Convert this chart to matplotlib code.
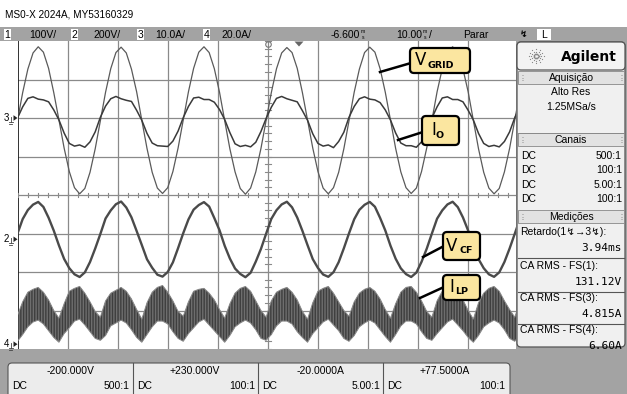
import numpy as np
import matplotlib
matplotlib.use("Agg")
import matplotlib.pyplot as plt
from matplotlib.patches import FancyBboxPatch, Rectangle, Polygon

# ---------------- data ----------------
CH_NAMES = ["1", "2", "3", "4"]
CH_SCALE_TXT = ["100V/", "200V/", "10.0A/", "20.0A/"]
CH_SCALE = [100.0, 200.0, 10.0, 20.0]          # units / div
CH_OFFSET = [-200.0, 230.0, -20.0, 77.5]       # value at screen centre
CH_OFFSET_TXT = ["-200.000V", "+230.000V", "-20.0000A", "+77.5000A"]
CH_PROBE = ["500:1", "100:1", "5.00:1", "100:1"]
TIME_PER_DIV = 10.0     # ms
TIME_DELAY = -6.6       # ms
SAMPLE_T0 = -56.6       # ms, first sample
SAMPLE_DT = 1.036       # ms between samples

MEAS_LABELS = ["Retardo(1\u21af\u21923\u21af):", "CA RMS - FS(1):", "CA RMS - FS(3):", "CA RMS - FS(4):"]
MEAS_VALUES = ["3.94ms", "131.12V", "4.815A", "6.60A"]

# V_GRID  (channel 1, volts)
v_grid = [-6, 66, 127, 169, 185, 171, 129, 66, -5, -78, -139, -181, -197, -183, -141, -80,
          -7, 67, 128, 170, 184, 169, 127, 68, -6, -79, -141, -182, -196, -181, -139, -78,
          -5, 68, 129, 171, 185, 170, 128, 67, -7, -80, -140, -183, -198, -182, -140, -79,
          -6, 66, 128, 169, 183, 170, 129, 66, -6, -78, -139, -182, -197, -181, -141, -80,
          -7, 67, 127, 170, 184, 171, 128, 67, -5, -79, -140, -181, -196, -182, -139, -78,
          -6, 68, 128, 170, 185, 169, 127, 68, -6, -80, -141, -182, -197, -183, -140, -79,
          -5, 67]
# I_O  (channel 3, amps)
i_o = [0.0, 2.9, 5.1, 5.5, 4.9, 4.7, 4.2, 2.1, -0.5, -3.9, -6.6, -7.3, -7.0, -7.6, -6.2, -3.6,
       0.2, 3.1, 5.0, 5.6, 5.0, 4.6, 4.3, 2.0, -0.6, -4.0, -6.5, -7.2, -7.3, -7.4, -6.0, -3.4,
       0.1, 3.0, 5.2, 5.4, 4.8, 4.8, 4.1, 2.2, -0.4, -3.8, -6.7, -7.4, -7.1, -7.5, -6.3, -3.5,
       -0.1, 2.8, 5.1, 5.6, 5.0, 4.6, 4.2, 1.9, -0.6, -4.1, -6.6, -7.3, -7.0, -7.7, -6.1, -3.7,
       0.2, 3.0, 5.0, 5.5, 4.9, 4.7, 4.0, 2.1, -0.5, -3.9, -6.5, -7.2, -7.2, -7.6, -6.2, -3.5,
       0.0, 2.9, 5.2, 5.5, 4.8, 4.8, 4.2, 2.0, -0.5, -4.0, -6.6, -7.4, -7.1, -7.5, -6.1, -3.6,
       0.1, 3.0]
# V_CF  (channel 2, volts)
v_cf = [30, 105, 152, 180, 194, 168, 112, 45, -32, -102, -150, -182, -196, -172, -118, -48,
        28, 108, 150, 182, 196, 165, 114, 43, -30, -104, -148, -184, -194, -170, -120, -46,
        32, 103, 154, 178, 193, 170, 110, 47, -34, -100, -152, -180, -197, -174, -116, -50,
        29, 106, 151, 181, 195, 166, 113, 44, -31, -103, -149, -183, -195, -171, -119, -47,
        31, 104, 153, 179, 194, 169, 111, 46, -33, -101, -151, -181, -196, -173, -117, -49,
        30, 107, 150, 181, 195, 167, 113, 45, -32, -103, -150, -182, -195, -172, -118, -48,
        29, 106]
# I_LP ripple band (channel 4, amps): upper and lower envelope
i_lp_upper = [15, 22, 27, 28.5, 29.5, 27, 23, 17.5,  13.5, 21, 27.5, 29, 30, 26.5, 22, 17,
              14, 22.5, 26.5, 28, 29.5, 27.5, 23.5, 18,  13, 21.5, 27, 29.5, 30.5, 27, 22.5, 17,
              14.5, 22, 27.5, 28.5, 29, 26.5, 23, 18,  13.5, 21, 26.5, 29, 30, 27.5, 22.5, 17.5,
              14, 22.5, 27, 28.5, 29.5, 27, 23, 17,  13, 21.5, 27.5, 29, 30, 26.5, 22, 17.5,
              14.5, 22, 26.5, 28.5, 29.5, 27.5, 23.5, 18,  13.5, 21, 27, 29.5, 30, 27, 22.5, 17,
              14, 22.5, 27.5, 28.5, 29, 26.5, 23, 17.5,  13, 21.5, 26.5, 29, 30, 27.5, 22.5, 18,
              14, 22]
i_lp_lower = [1.5, 5, 9, 11.5, 12.5, 10.5, 7, 3.5,  1, 5.5, 8.5, 12, 13, 10, 6.5, 3,
              2, 4.5, 9.5, 11, 12.5, 11, 7.5, 3.5,  1, 5, 9, 12, 12, 10.5, 6.5, 3,
              1.5, 5.5, 8.5, 11.5, 13, 10, 7, 4,  1, 4.5, 9, 11, 12.5, 11, 7.5, 3,
              2, 5, 9.5, 12, 12, 10.5, 6.5, 3.5,  1, 5.5, 8.5, 11.5, 13, 10, 7, 3,
              1.5, 4.5, 9, 11, 12.5, 11, 7.5, 4,  1, 5, 9.5, 12, 12, 10.5, 6.5, 3,
              2, 5.5, 8.5, 11.5, 13, 10, 7, 3.5,  1, 4.5, 9, 11, 12.5, 11, 7.5, 3,
              1.5, 5]

# ---------------- figure ----------------
W, H = 627, 394
fig = plt.figure(figsize=(W / 100, H / 100), dpi=100)
fig.patch.set_facecolor("white")
NARROW = ["Liberation Sans", "DejaVu Sans"]
MONO = ["DejaVu Sans Mono"]

PX_L, PX_R, PX_T, PX_B = 17.5, 517.5, 41, 349
ax = fig.add_axes([PX_L / W, 1 - PX_B / H, (PX_R - PX_L) / W, (PX_B - PX_T) / H])
t_left = TIME_DELAY - 5 * TIME_PER_DIV
t_right = TIME_DELAY + 5 * TIME_PER_DIV
ax.set_xlim(t_left, t_right)
ax.set_ylim(-4, 4)
ax.set_xticks([]); ax.set_yticks([])
for s in ax.spines.values():
    s.set_visible(False)
ax.set_facecolor("white")

GRID_C = "#8a8a8a"
for j in range(1, 10):
    ax.axvline(t_left + j * TIME_PER_DIV, color=GRID_C, lw=0.9, zorder=1)
for j in range(-3, 4):
    ax.axhline(j, color=GRID_C, lw=0.9, zorder=1)
ax.axvline(t_left, color="#222222", lw=1.3, zorder=1)
# minor ticks on centre lines
for j in range(-25, 26):
    xx = TIME_DELAY + j * TIME_PER_DIV / 5
    ax.plot([xx, xx], [-0.06, 0.06], color=GRID_C, lw=0.8, zorder=1)
for j in range(-20, 21):
    yy = j / 5
    ax.plot([TIME_DELAY - 0.6, TIME_DELAY + 0.6], [yy, yy], color=GRID_C, lw=0.8, zorder=1)


def to_div(vals, ch):
    return (np.asarray(vals, float) - CH_OFFSET[ch]) / CH_SCALE[ch]


t = SAMPLE_T0 + SAMPLE_DT * np.arange(len(v_grid))
ax.fill_between(t, to_div(i_lp_lower, 3), to_div(i_lp_upper, 3), facecolor="#6e6e6e",
                edgecolor="#3e3e3e", hatch="||||||", lw=0.0, zorder=2)
ax.plot(t, to_div(i_lp_upper, 3), color="#8a8a8a", lw=0.7, zorder=2)
ax.plot(t, to_div(i_lp_lower, 3), color="#8a8a8a", lw=0.7, zorder=2)
ax.plot(t, to_div(v_cf, 1), color="#4a4a4a", lw=1.7, zorder=3)
ax.plot(t, to_div(v_grid, 0), color="#5a5a5a", lw=0.9, zorder=3)
ax.plot(t, to_div(i_o, 2), color="#3a3a3a", lw=1.1, zorder=4)

# ---------------- overlay (screen furniture) ----------------
ov = fig.add_axes([0, 0, 1, 1])
ov.set_xlim(0, W); ov.set_ylim(H, 0); ov.axis("off")
ov.set_zorder(5); ov.patch.set_alpha(0)

GREY = "#a3a3a3"
ov.text(5, 14, "MS0-X 2024A, MY53160329", family=NARROW, fontsize=7.2, va="center", ha="left")
ov.add_patch(Rectangle((0, 27), W, 14, facecolor=GREY, edgecolor="none"))
box_x = [3, 70, 136, 202]
txt_x = [29, 93, 155, 221]
for i in range(4):
    ov.add_patch(Rectangle((box_x[i] + 1, 28.5), 7, 11, facecolor="white", edgecolor="none"))
    ov.text(box_x[i] + 4.5, 34.5, CH_NAMES[i], family=NARROW, fontsize=7.5, ha="center", va="center")
    ov.text(txt_x[i], 34.5, CH_SCALE_TXT[i], family=NARROW, fontsize=7.5, ha="left", va="center")
ov.text(360, 34.5, "-6.600", family=NARROW, fontsize=7.5, ha="right", va="center")
ov.text(361, 31.5, "m", family=NARROW, fontsize=3.6, ha="left", va="center")
ov.text(361.5, 37.6, "s", family=NARROW, fontsize=3.6, ha="left", va="center")
ov.text(422, 34.5, "10.00", family=NARROW, fontsize=7.5, ha="right", va="center")
ov.text(423, 31.5, "m", family=NARROW, fontsize=3.6, ha="left", va="center")
ov.text(423.5, 37.6, "s", family=NARROW, fontsize=3.6, ha="left", va="center")
ov.text(429, 34.5, "/", family=NARROW, fontsize=7.5, ha="left", va="center")
ov.text(463, 34.5, "Parar", family=NARROW, fontsize=7.5, ha="left", va="center")
ov.text(524, 34.5, "\u21af", fontsize=6.5, ha="center", va="center", fontweight="bold")
ov.add_patch(Rectangle((537, 28.5), 14, 11, facecolor="white", edgecolor="none"))
ov.text(544, 34.5, "L", family=NARROW, fontsize=7.5, ha="center", va="center")

# trigger / delay markers at the top of the graticule
ov.add_patch(Polygon([[294.5, 41.5], [303.5, 41.5], [299, 46.5]], closed=True, facecolor="#666666", edgecolor="none"))
ov.plot([268], [43.5], marker="o", ms=4, mfc="none", mec="#777777", mew=0.8)

# channel ground markers on the left
gnd_y = [PX_T + (4 - (0 - CH_OFFSET[c]) / CH_SCALE[c]) * (PX_B - PX_T) / 8 for c in range(4)]
for c, lab in [(2, "3"), (1, "2"), (3, "4")]:
    yy = gnd_y[c]
    ov.text(6, yy - 0.5, lab, family=NARROW, fontsize=7, ha="center", va="center")
    ov.plot([10.5, 10.5], [yy - 1, yy + 4], color="#444444", lw=0.6)
    ov.plot([8.5, 12.5], [yy + 4, yy + 4], color="#444444", lw=0.6)
    ov.plot([9.3, 11.7], [yy + 5.5, yy + 5.5], color="#444444", lw=0.6)
    ov.add_patch(Polygon([[13.5, yy - 2.8], [13.5, yy + 2.8], [17.5, yy]], closed=True, facecolor="#222222", edgecolor="none"))

# bottom area
ov.add_patch(Rectangle((0, PX_B), W, H - PX_B, facecolor=GREY, edgecolor="none"))
ov.add_patch(FancyBboxPatch((8, 363), 502, 40, boxstyle="round,pad=0,rounding_size=4",
                            facecolor="#ececec", edgecolor="#555555", lw=0.8))
for i in range(4):
    x0 = 8 + 125 * i
    if i > 0:
        ov.plot([x0, x0], [363, 394], color="#555555", lw=0.8)
    ov.text(x0 + 62, 371, CH_OFFSET_TXT[i], family=NARROW, fontsize=7.5, ha="center", va="center")
    ov.text(x0 + 4, 386, "DC", family=NARROW, fontsize=7.5, ha="left", va="center")
    ov.text(x0 + 122, 386, CH_PROBE[i], family=NARROW, fontsize=7.5, ha="right", va="center")

# right panel
ov.add_patch(Rectangle((516, 41), W - 516, PX_B - 41, facecolor=GREY, edgecolor="none"))
ov.add_patch(FancyBboxPatch((517, 42), 108, 305, boxstyle="round,pad=0,rounding_size=4",
                            facecolor="#f0f0f0", edgecolor="#555555", lw=0.9))
ov.add_patch(FancyBboxPatch((517, 42), 108, 28, boxstyle="round,pad=0,rounding_size=4",
                            facecolor="#f3f3f3", edgecolor="#555555", lw=0.9))
# starburst logo
for ang in np.linspace(0, 2 * np.pi, 12, endpoint=False):
    for r in (2.5, 5, 7.5):
        ov.plot(536 + r * np.cos(ang), 56 + r * np.sin(ang) * 0.9, "o", ms=0.9 if r > 3 else 1.2, color="#888888", mec="none")
ov.text(561, 56.5, "Agilent", fontsize=10, fontweight="bold", ha="left", va="center", family=["DejaVu Sans"])


def header(y0, label):
    ov.add_patch(Rectangle((518, y0), 106, 13, facecolor="#e2e2e2", edgecolor="#888888", lw=0.6))
    ov.text(571, y0 + 6.5, label, family=NARROW, fontsize=7.5, ha="center", va="center")
    for xx in (521.5, 620.5):
        for dx in (0, 1.6):
            for dy in (-2.5, 0, 2.5):
                ov.plot(xx + dx, y0 + 6.5 + dy, "o", ms=0.6, color="#9a9a9a", mec="none")


header(71, "Aquisi\u00e7\u00e3o")
ov.text(571, 92, "Alto Res", family=NARROW, fontsize=7.5, ha="center", va="center")
ov.text(571, 107, "1.25MSa/s", family=NARROW, fontsize=7.5, ha="center", va="center")
ov.plot([518, 624], [132.5, 132.5], color="#888888", lw=0.6)
header(133, "Canais")
for i in range(4):
    yy = 156 + 14.3 * i
    ov.text(521, yy, "DC", family=NARROW, fontsize=7.5, ha="left", va="center")
    ov.text(622, yy, CH_PROBE[i], family=NARROW, fontsize=7.5, ha="right", va="center")
header(210, "Medi\u00e7\u00f5es")
meas_y = [232, 266, 298, 330]
for i in range(4):
    yy = meas_y[i]
    ov.text(520, yy, MEAS_LABELS[i], family=NARROW, fontsize=7.5, ha="left", va="center")
    ov.text(622, yy + 16, MEAS_VALUES[i], family=MONO, fontsize=8, ha="right", va="center")
    if i < 3:
        ov.plot([518, 624], [yy + 25.5, yy + 25.5], color="#555555", lw=0.8)

# ---------------- annotation callouts ----------------
YEL = "#fbe6a0"


def callout(x0, y0, w, h, main, sub, mx, sx, line_from, line_to):
    ov.plot([line_from[0], line_to[0]], [line_from[1], line_to[1]], color="black", lw=1.8, zorder=6)
    ov.add_patch(FancyBboxPatch((x0, y0), w, h, boxstyle="round,pad=0,rounding_size=4",
                                facecolor=YEL, edgecolor="black", lw=1.6, zorder=7))
    ov.text(mx, y0 + h / 2 - 0.5, main, fontsize=12, ha="left", va="center", zorder=8, family=["DejaVu Sans"])
    ov.text(sx, y0 + h / 2 + 4.5, sub, fontsize=6.8, fontweight="bold", ha="left", va="center", zorder=8, family=["DejaVu Sans"])


callout(410, 48, 60, 25, "V", "GRID", 415, 428, (411, 63), (380, 72))
callout(422, 116, 37, 29, "I", "O", 431, 436, (423, 132), (398, 140))
callout(443, 232, 37, 28, "V", "CF", 446, 459, (444, 246), (423, 257))
callout(443, 275, 37, 25, "I", "LP", 449, 455, (444, 287), (420, 298))

fig.savefig("out.png", dpi=100, facecolor="white")
